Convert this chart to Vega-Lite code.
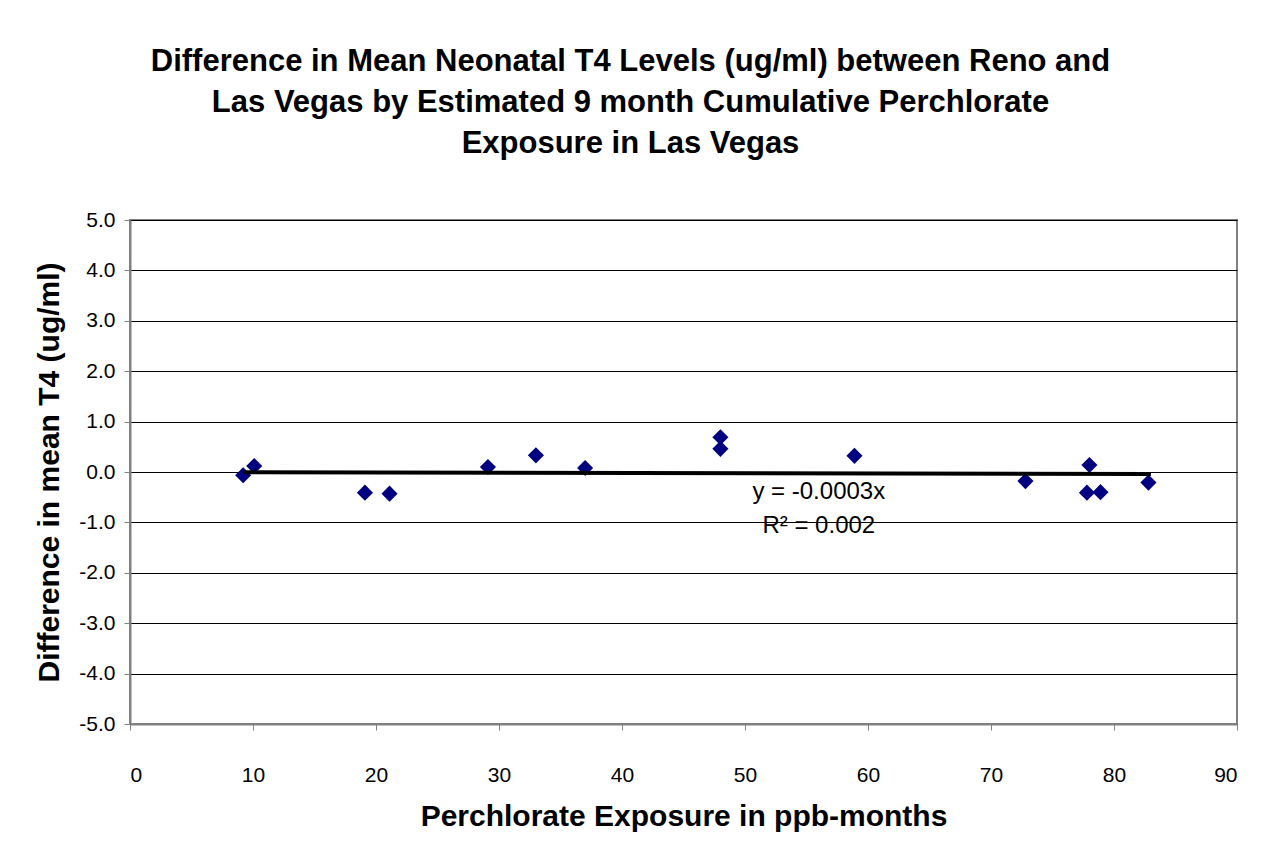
{
  "$schema": "https://vega.github.io/schema/vega-lite/v6.json",
  "width": 1107,
  "height": 504,
  "autosize": {"type": "none"},
  "padding": {"left": 130, "top": 220, "right": 46, "bottom": 135},
  "background": "white",
  "title": {
    "text": ["Difference in Mean Neonatal T4 Levels (ug/ml) between Reno and", "Las Vegas by Estimated 9 month Cumulative Perchlorate", "Exposure in Las Vegas"],
    "font": "Liberation Sans",
    "fontSize": 31,
    "fontWeight": "bold",
    "lineHeight": 41,
    "color": "black",
    "anchor": "middle",
    "offset": 49,
    "dx": -53
  },
  "config": {
    "locale": {"number": {"decimal": ".", "thousands": ",", "grouping": [3], "currency": ["$", ""], "minus": "-"}},
    "view": {"stroke": "#808080", "strokeWidth": 2},
    "axis": {
      "labelFont": "Liberation Sans",
      "labelFontSize": 21,
      "labelColor": "black",
      "titleFont": "Liberation Sans",
      "titleFontSize": 30,
      "titleFontWeight": "bold",
      "titleColor": "black",
      "tickColor": "#808080",
      "tickSize": 6,
      "domainColor": "#808080",
      "domainWidth": 2
    }
  },
  "datasets": {
    "points": [
      {"exposure": 9.2, "diff": -0.065},
      {"exposure": 10.1, "diff": 0.12},
      {"exposure": 19.1, "diff": -0.41},
      {"exposure": 21.1, "diff": -0.43},
      {"exposure": 29.1, "diff": 0.10},
      {"exposure": 33.0, "diff": 0.33},
      {"exposure": 37.0, "diff": 0.08},
      {"exposure": 48.0, "diff": 0.69},
      {"exposure": 48.0, "diff": 0.46},
      {"exposure": 58.9, "diff": 0.32},
      {"exposure": 72.8, "diff": -0.18},
      {"exposure": 78.0, "diff": 0.14},
      {"exposure": 77.8, "diff": -0.41},
      {"exposure": 78.9, "diff": -0.40},
      {"exposure": 82.8, "diff": -0.21}
    ],
    "trend": [
      {"exposure": 9.2, "diff": -0.003},
      {"exposure": 83.0, "diff": -0.04}
    ],
    "notes": [
      {"exposure": 56.0, "diff": -0.39, "label": "y = -0.0003x"},
      {"exposure": 56.0, "diff": -1.08, "label": "R² = 0.002"}
    ]
  },
  "layer": [
    {
      "data": {"name": "points"},
      "mark": {"type": "point", "shape": "diamond", "filled": true, "color": "#000080", "size": 260, "opacity": 1},
      "encoding": {
        "x": {
          "field": "exposure",
          "type": "quantitative",
          "scale": {"domain": [0, 90], "nice": false, "zero": false},
          "axis": {
            "title": "Perchlorate Exposure in ppb-months",
            "values": [0, 10, 20, 30, 40, 50, 60, 70, 80, 90],
            "grid": false,
            "labelPadding": 34,
            "titlePadding": 16
          }
        },
        "y": {
          "field": "diff",
          "type": "quantitative",
          "scale": {"domain": [-5, 5], "nice": false},
          "axis": {
            "title": "Difference in mean T4 (ug/ml)",
            "values": [-5, -4, -3, -2, -1, 0, 1, 2, 3, 4, 5],
            "format": ".1f",
            "grid": true,
            "gridColor": "black",
            "gridWidth": 1,
            "gridOpacity": 1,
            "labelPadding": 9,
            "titlePadding": 14
          }
        }
      }
    },
    {
      "data": {"name": "trend"},
      "mark": {"type": "line", "color": "black", "strokeWidth": 4},
      "encoding": {
        "x": {"field": "exposure", "type": "quantitative"},
        "y": {"field": "diff", "type": "quantitative"}
      }
    },
    {
      "data": {"name": "notes"},
      "mark": {"type": "text", "font": "Liberation Sans", "fontSize": 24, "color": "black", "align": "center", "baseline": "middle"},
      "encoding": {
        "x": {"field": "exposure", "type": "quantitative"},
        "y": {"field": "diff", "type": "quantitative"},
        "text": {"field": "label"}
      }
    }
  ]
}
